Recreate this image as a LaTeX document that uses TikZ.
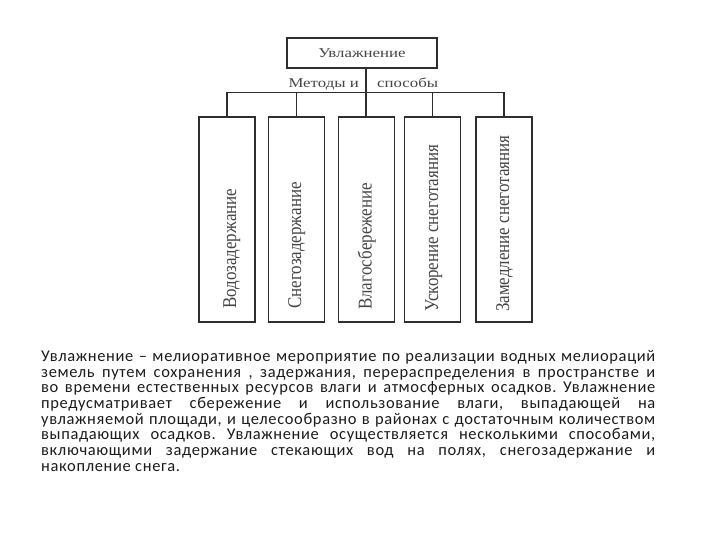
\documentclass[tikz,border=0pt]{standalone}
\usepackage{fontspec}
\usepackage{graphicx}
\setmainfont{Liberation Serif}
\newfontfamily\bodyfont[LetterSpace=4]{Carlito}
\definecolor{linec}{HTML}{2E2E2E}
\definecolor{textc}{HTML}{454545}
\definecolor{bodyc}{HTML}{1C1C1C}
\newcommand\jline[1]{\hbox to 614bp{#1}}
\begin{document}
\begin{tikzpicture}[x=1bp,y=-1bp,
  frame/.style={draw=linec, line width=1.3bp, inner sep=0pt},
  conn/.style={draw=linec, line width=1.3bp},
  vbox/.style={frame, minimum width=56bp, minimum height=205bp},
  vlabel/.style={rotate=90, anchor=base west, inner sep=0pt, text=textc, font=\fontsize{17}{17}\selectfont},
  hlabel/.style={inner sep=0pt, text=textc, font=\fontsize{13.5}{13.5}\selectfont}]
\useasboundingbox[fill=white] (0,0) rectangle (720,540);
% top box
\node[frame, hlabel, minimum width=150bp, minimum height=30bp] (top) at (362,53) {\scalebox{1.25}[1]{Увлажнение}};
\node[hlabel, anchor=base east] (m1) at (359,87.5) {\scalebox{1.25}[1]{Методы и}};
\node[hlabel, anchor=base west] (m2) at (377,87.5) {\scalebox{1.25}[1]{способы}};
% method boxes
\node[vbox] (b1) at (227,219.5) {};
\node[vbox] (b2) at (296.5,219.5) {};
\node[vbox] (b3) at (366.5,219.5) {};
\node[vbox] (b4) at (432.5,219.5) {};
\node[vbox] (b5) at (504,219.5) {};
% labels
\node[vlabel] (l1) at (236,309) {\scalebox{1}[1.15]{Водозадержание}};
\node[vlabel] (l2) at (301,309) {\scalebox{1}[1.15]{Снегозадержание}};
\node[vlabel] (l3) at (371.5,310) {\scalebox{1}[1.15]{Влагосбережение}};
\node[vlabel] (l4) at (438,312) {\scalebox{1}[1.15]{Ускорение снеготаяния}};
\node[vlabel] (l5) at (509,312) {\scalebox{1}[1.15]{Замедление снеготаяния}};
% connectors
\coordinate (j) at (366,92.5);
\draw[conn] (top.south -| j) -- (b3.north -| j);
\draw[conn] (b1.north) -- (b1.north |- j) -- (b5.north |- j) -- (b5.north);
\draw[conn] (b2.north) -- (b2.north |- j);
\draw[conn] (b4.north) -- (b4.north |- j);
% paragraph
\node[anchor=base west, inner sep=0pt, text=bodyc] (para) at (41,361.7) {\vtop{\bodyfont\fontsize{16.5}{15.7}\selectfont\frenchspacing
\jline{Увлажнение – мелиоративное мероприятие по реализации водных мелиораций}
\jline{земель путем сохранения , задержания, перераспределения в пространстве и}
\jline{во времени естественных ресурсов влаги и атмосферных осадков. Увлажнение}
\jline{предусматривает сбережение и использование влаги, выпадающей на}
\jline{увлажняемой площади, и целесообразно в районах с достаточным количеством}
\jline{выпадающих осадков. Увлажнение осуществляется несколькими способами,}
\jline{включающими задержание стекающих вод на полях, снегозадержание и}
\hbox{накопление снега.}}};
\end{tikzpicture}
\end{document}
